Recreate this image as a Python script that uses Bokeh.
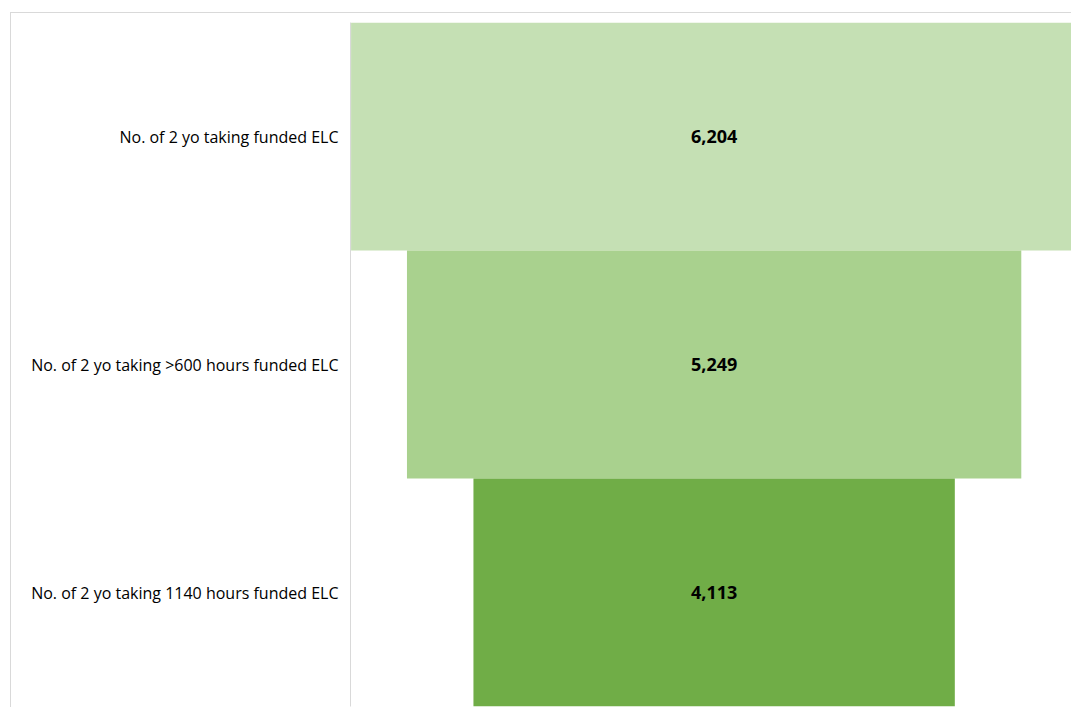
from bokeh.plotting import figure
from bokeh.models import ColumnDataSource, Range1d, FactorRange
from bokeh.core.properties import value
from bokeh.embed import file_html
from bokeh.resources import INLINE

categories = ["No. of 2 yo taking funded ELC",
              "No. of 2 yo taking >600 hours funded ELC",
              "No. of 2 yo taking 1140 hours funded ELC"]
values = [6204, 5249, 4113]
labels = ["6,204", "5,249", "4,113"]
colors = ["#C5E0B4", "#A9D18E", "#70AD47"]

src = ColumnDataSource(dict(
    cat=categories,
    left=[-v / 2 for v in values],
    right=[v / 2 for v in values],
    lab=labels,
    color=colors,
))

p = figure(width=1061, height=695, output_backend="svg", toolbar_location=None,
           y_range=FactorRange(*list(reversed(categories)), range_padding=0),
           x_range=Range1d(-3107, 3062),
           min_border_left=339, min_border_right=0, min_border_top=9, min_border_bottom=2)
p.styles = {"border-top": "1px solid #d9d9d9", "border-left": "1px solid #d9d9d9",
            "margin-top": "12px", "margin-left": "10px"}

p.hbar(y="cat", left="left", right="right", height=1.0, color="color",
       line_color=None, source=src)
p.text(x=0, y="cat", text="lab", source=src, text_align="center",
       text_baseline="middle", text_font=value("Open Sans"), text_font_style="bold",
       text_font_size="18px", text_color="#000000")

p.xaxis.visible = False
p.xgrid.visible = False
p.ygrid.visible = False
p.outline_line_color = None
p.yaxis.axis_line_color = "#d9d9d9"
p.yaxis.major_tick_line_color = None
p.yaxis.minor_tick_line_color = None
p.yaxis.major_label_standoff = 6
p.yaxis.major_label_text_font = "Open Sans"
p.yaxis.major_label_text_font_size = "16px"
p.yaxis.major_label_text_color = "#000000"
p.background_fill_color = "white"
p.border_fill_color = "white"

open("out.html", "w").write(file_html(p, INLINE))
